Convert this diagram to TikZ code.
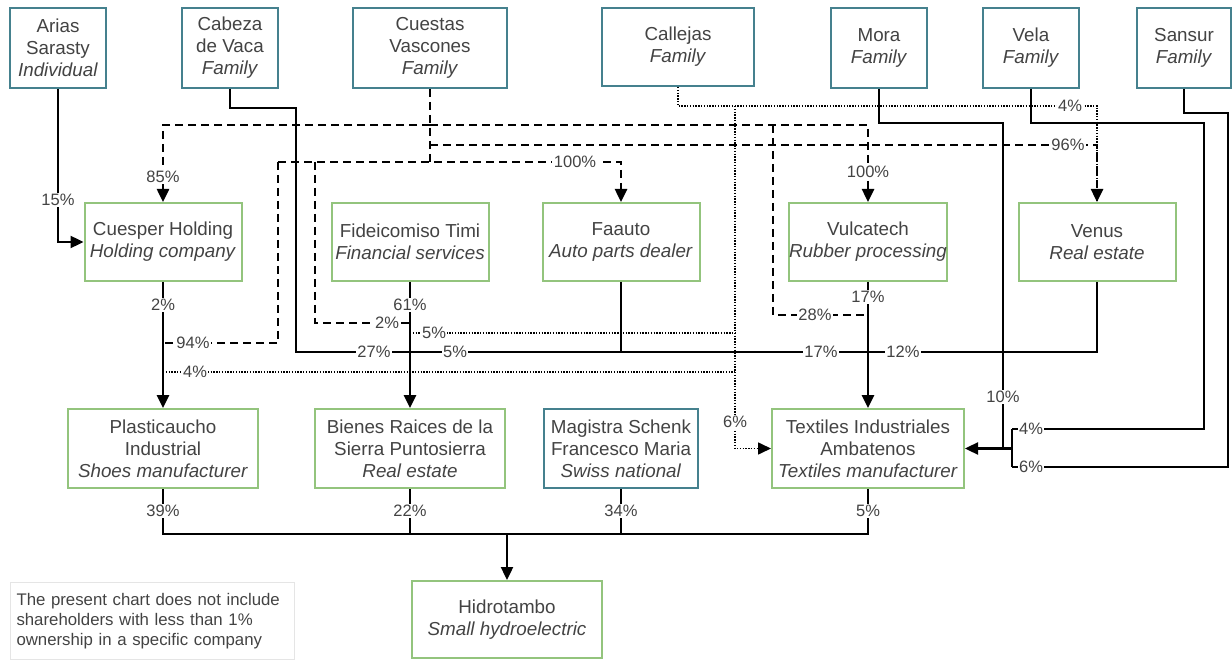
\documentclass[tikz,border=0pt]{standalone}
\usepackage{fontspec}
\setmainfont{Liberation Sans}
\usetikzlibrary{arrows.meta}
\definecolor{ownblue}{HTML}{45818E}
\definecolor{compgreen}{HTML}{93C47D}
\definecolor{txtgray}{HTML}{434343}
\newcommand{\fsz}[2]{\fontsize{#1}{#2}\selectfont}
\tikzset{>={Triangle[length=13pt,width=12pt]},
  box/.style={draw, line width=2pt, fill=white, align=center, inner sep=0pt,
    text=txtgray, font=\fsz{18.8}{22}},
  owner/.style={box, draw=ownblue, minimum width=96pt, minimum height=80pt},
  company/.style={box, draw=compgreen, minimum width=157pt, minimum height=78pt},
  pct/.style={fill=white, inner sep=1.5pt, text=txtgray, font=\fsz{16.5}{18}},
  solidline/.style={line width=2.4pt},
  mainline/.style={line width=2.8pt},
  dashline/.style={line width=2.5pt, dash pattern=on 8pt off 5pt},
  dotline/.style={line width=1.6pt, dash pattern=on 1.4pt off 1.4pt},
}

\begin{document}
\begin{tikzpicture}[x=1pt,y=-1pt]
\useasboundingbox (0,0) rectangle (1232,660);
% owners
\node[owner] (ari) at (58,48) {Arias\\Sarasty\\\textit{Individual}};
\node[owner] (cab) at (230,48) {Cabeza\\de Vaca\\\textit{Family}};
\node[owner, minimum width=154pt] (cva) at (430,48) {Cuestas\\Vascones\\\textit{Family}};
\node[owner, minimum width=152pt, minimum height=78pt] (cll) at (678,47) {Callejas\\\textit{Family}};
\node[owner] (mor) at (879,48) {Mora\\\textit{Family}};
\node[owner] (vel) at (1031,48) {Vela\\\textit{Family}};
\node[owner, minimum width=94pt] (san) at (1184,48) {Sansur\\\textit{Family}};
% companies
\node[company] (cuh) at (163,242) {Cuesper Holding\\\textit{Holding company}};
\node[company] (fid) at (410,242) {Fideicomiso Timi\\\textit{Financial services}};
\node[company] (faa) at (621,242) {Faauto\\\textit{Auto parts dealer}};
\node[company] (vul) at (868,242) {Vulcatech\\\textit{Rubber processing}};
\node[company] (ven) at (1097,242) {Venus\\\textit{Real estate}};
\node[company, minimum width=190pt, minimum height=79pt] (pla) at (163,448.5) {Plasticaucho\\Industrial\\\textit{Shoes manufacturer}};
\node[company, minimum width=190pt, minimum height=79pt] (bie) at (410,448.5) {Bienes Raices de la\\Sierra Puntosierra\\\textit{Real estate}};
\node[owner, minimum width=154pt, minimum height=79pt] (mag) at (621,448.5) {Magistra Schenk\\Francesco Maria\\\textit{Swiss national}};
\node[company, minimum width=192pt, minimum height=79pt] (tex) at (868,448.5) {Textiles Industriales\\Ambatenos\\\textit{Textiles manufacturer}};
\node[company, minimum width=190pt, minimum height=77pt] (hid) at (507,619.5) {Hidrotambo\\\textit{Small hydroelectric}};
\node[draw=gray!20, line width=1pt, anchor=north west, text width=272pt, minimum height=77pt,
  inner sep=6pt, align=left, text=txtgray, font=\fsz{16.8}{20}] (note) at (10,582)
  {The present chart does not include\\shareholders with less than 1\%\\ownership in a specific company};

% solid ownership
\draw[solidline,->] (ari.south) |- (cuh.west);
\draw[solidline] (cab.south) |- (296,108) -- (296,352) -| (ven.south);
\draw[solidline] (faa.south) -- (621,352);
\draw[solidline] (mor.south) |- (1003,123) -- (1003,448.5);
\draw[solidline] (vel.south) |- (1204,123) |- (1012,429);
\draw[solidline] (san.south) |- (1228,113) |- (1012,467);
\draw[solidline] (1012,429) -- (1012,467);
\draw[solidline,->] (1012,448.5) -- (tex.east);
\draw[mainline,->] (cuh.south) -- (pla.north);
\draw[mainline,->] (fid.south) -- (bie.north);
\draw[mainline,->] (vul.south) -- (tex.north);
\draw[solidline] (pla.south) |- (868,534) -- (tex.south);
\draw[solidline] (bie.south) -- (410,534);
\draw[solidline] (mag.south) -- (621,534);
\draw[solidline,->] (507,534) -- (hid.north);

% Cuestas Vascones (dashed)
\draw[dashline] (cva.south) -- (430,162);
\draw[dashline,->] (430,125) -| (cuh.north);
\draw[dashline,->] (430,125) -| (vul.north);
\draw[dashline,->] (430,145) -| (ven.north);
\draw[dashline,->] (278,162) -| (faa.north);
\draw[dashline] (278,162) |- (163,343);
\draw[dashline] (315,162) |- (410,323);
\draw[dashline] (773,125) |- (868,315);

% Callejas (dotted)
\draw[dotline] (cll.south) |- (1097,106) -- (ven.north);
\draw[dotline,->] (735,106) |- (tex.west);
\draw[dotline] (410,333) -- (735,333);
\draw[dotline] (163,372) -- (735,372);

% percentages
\node[pct] (pAri) at (58,200) {15\%};
\node[pct] (pCvaCuh) at (163,177) {85\%};
\node[pct] (pCvaVul) at (868,172) {100\%};
\node[pct] (pCvaFaa) at (575,162) {100\%};
\node[pct] (pCvaVen) at (1068,145) {96\%};
\node[pct] (pCllVen) at (1070,106) {4\%};
\node[pct] (pCuhPla) at (163,305) {2\%};
\node[pct] (pFidBie) at (410,305) {61\%};
\node[pct] (pVulTex) at (868,297) {17\%};
\node[pct] (pCvaPla) at (193,343) {94\%};
\node[pct] (pCllPla) at (195,372) {4\%};
\node[pct] (pCvaBie) at (387,323) {2\%};
\node[pct] (pCllBie) at (434,333) {5\%};
\node[pct] (pCabBie) at (374,352) {27\%};
\node[pct] (pFaaBie) at (455,352) {5\%};
\node[pct] (pFaaTex) at (821,352) {17\%};
\node[pct] (pVenTex) at (903,352) {12\%};
\node[pct] (pCvaTex) at (815,315) {28\%};
\node[pct] (pCllTex) at (735,422) {6\%};
\node[pct] (pMorTex) at (1003,397) {10\%};
\node[pct] (pVelTex) at (1031,429) {4\%};
\node[pct] (pSanTex) at (1031,467) {6\%};
\node[pct] (pPlaHid) at (163,511) {39\%};
\node[pct] (pBieHid) at (410,511) {22\%};
\node[pct] (pMagHid) at (621,511) {34\%};
\node[pct] (pTexHid) at (868,511) {5\%};
\end{tikzpicture}
\end{document}
